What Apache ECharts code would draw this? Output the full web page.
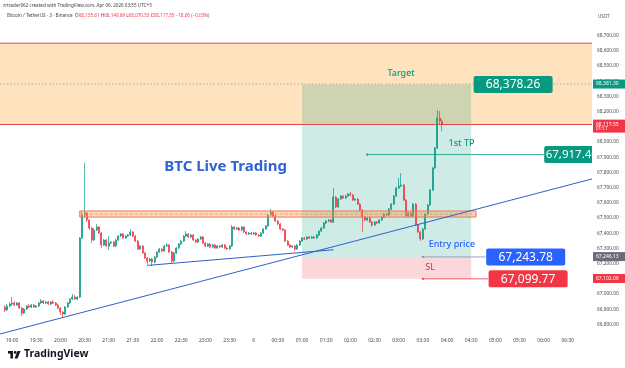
<!DOCTYPE html>
<html><head><meta charset="utf-8">
<script src="https://cdn.jsdelivr.net/npm/echarts@6/dist/echarts.min.js"></script>
<style>html,body{margin:0;padding:0;background:#fff}#c{width:625px;height:368px}</style>
</head><body><div id="c"></div>
<script>
// ---------- DATA ----------
const sessionStart = '18:45';
const slotCount = 246;            // 3-minute slots shown on the time axis
const candleStart = '18:51';
// [open, close, low, high]
const candles = [
[66914,66895,66881,66927],[66895,66921,66888,66934],[66921,66934,66914,66947],[66934,66941,66921,66980],
[66941,66927,66921,66954],[66927,66941,66921,66947],[66941,66908,66901,66947],[66908,66875,66855,66914],
[66875,66901,66868,66908],[66901,66921,66895,66927],[66921,66914,66908,66934],[66914,66927,66908,66934],
[66927,66914,66908,66934],[66914,66921,66908,66927],[66921,66941,66914,66947],[66941,66954,66934,66967],
[66954,66941,66934,66960],[66941,66947,66934,66954],[66947,66934,66927,66954],[66934,66947,66927,66954],
[66947,66941,66934,66960],[66941,66927,66921,66947],[66927,66908,66901,66934],[66908,66881,66862,66914],
[66881,66868,66842,66888],[66868,66914,66862,66921],[66914,66941,66908,66947],[66941,66967,66934,66973],
[66967,66980,66960,67000],[66980,66967,66960,66993],[66967,66980,66960,66987],[66980,67368,66973,67375],
[67368,67519,67362,67546],[67519,67533,67500,67862],[67533,67487,67473,67546],[67487,67434,67421,67493],
[67434,67355,67335,67441],[67355,67421,67348,67434],[67421,67441,67414,67460],[67441,67401,67395,67447],
[67401,67322,67302,67408],[67322,67355,67316,67362],[67355,67316,67309,67362],[67316,67335,67289,67381],
[67335,67342,67329,67348],[67342,67316,67309,67348],[67316,67355,67309,67362],[67355,67381,67348,67388],
[67381,67395,67375,67401],[67395,67368,67362,67401],[67368,67381,67362,67388],[67381,67388,67375,67395],
[67388,67408,67381,67427],[67408,67381,67375,67414],[67381,67348,67342,67388],[67348,67296,67289,67355],
[67296,67316,67289,67322],[67316,67270,67263,67322],[67270,67237,67230,67276],[67237,67217,67191,67243],
[67217,67230,67210,67237],[67230,67210,67184,67237],[67210,67243,67204,67250],[67243,67276,67237,67283],
[67276,67296,67270,67302],[67296,67283,67276,67302],[67283,67316,67276,67322],[67316,67322,67309,67335],
[67322,67276,67270,67329],[67276,67217,67204,67283],[67217,67270,67210,67276],[67270,67302,67263,67309],
[67302,67329,67296,67335],[67329,67348,67322,67355],[67348,67381,67342,67388],[67381,67395,67375,67414],
[67395,67375,67368,67401],[67375,67388,67368,67395],[67388,67355,67348,67395],[67355,67342,67335,67362],
[67342,67362,67335,67368],[67362,67375,67355,67381],[67375,67335,67329,67381],[67335,67316,67309,67342],
[67316,67329,67309,67335],[67329,67309,67302,67335],[67309,67322,67302,67329],[67322,67302,67296,67329],
[67302,67316,67296,67322],[67316,67309,67302,67322],[67309,67322,67302,67329],[67322,67302,67296,67329],
[67302,67296,67289,67309],[67296,67316,67289,67322],[67316,67441,67309,67454],[67441,67427,67421,67447],
[67427,67434,67421,67441],[67434,67421,67414,67441],[67421,67441,67414,67447],[67441,67408,67401,67447],
[67408,67395,67388,67414],[67395,67401,67388,67408],[67401,67395,67388,67408],[67395,67401,67388,67408],
[67401,67388,67381,67408],[67388,67381,67375,67395],[67381,67401,67375,67408],[67401,67427,67395,67434],
[67427,67447,67421,67454],[67447,67519,67441,67526],[67519,67539,67513,67559],[67539,67513,67506,67546],
[67513,67480,67473,67519],[67480,67460,67454,67487],[67460,67427,67421,67467],[67427,67421,67414,67434],
[67421,67348,67342,67427],[67348,67322,67316,67355],[67322,67309,67302,67329],[67309,67316,67302,67322],
[67316,67296,67283,67322],[67296,67322,67289,67329],[67322,67348,67316,67355],[67348,67368,67342,67375],
[67368,67362,67355,67375],[67362,67375,67355,67381],[67375,67368,67362,67381],[67368,67375,67362,67381],
[67375,67368,67362,67381],[67368,67388,67362,67395],[67388,67414,67381,67421],[67414,67434,67408,67441],
[67434,67467,67427,67473],[67467,67480,67460,67487],[67480,67487,67473,67493],[67487,67473,67467,67493],
[67473,67638,67467,67697],[67638,67572,67565,67644],[67572,67625,67565,67631],[67625,67644,67618,67651],
[67644,67631,67625,67651],[67631,67644,67625,67651],[67644,67658,67638,67664],[67658,67651,67644,67671],
[67651,67618,67612,67658],[67618,67625,67612,67631],[67625,67592,67585,67631],[67592,67552,67546,67598],
[67552,67506,67408,67559],[67506,67487,67480,67513],[67487,67500,67480,67506],[67500,67473,67467,67506],
[67473,67454,67441,67480],[67454,67473,67447,67480],[67473,67467,67460,67480],[67467,67487,67460,67493],
[67487,67506,67480,67513],[67506,67526,67500,67533],[67526,67519,67513,67533],[67519,67559,67513,67565],
[67559,67592,67552,67598],[67592,67644,67585,67651],[67644,67697,67638,67704],[67697,67710,67690,67763],
[67710,67717,67704,67796],[67717,67618,67612,67724],[67618,67513,67506,67625],[67513,67533,67506,67539],
[67533,67513,67506,67539],[67513,67592,67506,67598],[67592,67454,67447,67598],[67454,67408,67401,67460],
[67408,67362,67348,67414],[67362,67427,67355,67434],[67427,67526,67421,67533],[67526,67585,67519,67592],
[67585,67684,67579,67690],[67684,67829,67677,67836],[67829,67960,67822,67967],[67960,68158,67954,68210],
[68158,68138,68118,68204],[68135.61,68117.55,68070.53,68149.69]
];
const tickTimes = ['19:00','19:30','20:00','20:30','21:00','21:30','22:00','22:30','23:00','23:30','00:00','00:30',
                   '01:00','01:30','02:00','02:30','03:00','03:30','04:00','04:30','05:00','05:30','06:00','06:30'];
const tickTexts = ['19:00','19:30','20:00','20:30','21:00','21:30','22:00','22:30','23:00','23:30','6','00:30',
                   '01:00','01:30','02:00','02:30','03:00','03:30','04:00','04:30','05:00','05:30','06:00','06:30'];
const priceMin = 66700, priceMax = 68900, priceStep = 100;
const hiddenPriceTicks = [66700, 68800, 68900];

const supplyZone = {from:'18:45', to:'07:00', top:68650, bottom:68115};
const dottedLevel = 68381.30;
const position = {from:'01:00', to:'04:30', target:68378.26, entry:67243.78, stop:67099.77};
const resistance = {from:'20:24', to:'04:36', top:67546, bottom:67506, mid:67526};
const trendLong = [['18:45',66737],['07:00',67757]];
const trendShort = [['21:48',67188],['01:39',67291]];
const tpLine = {from:'02:21', to:'06:00', price:67917.40, text:'67,917.40'};
const entryLine = {from:'03:30', to:'04:48', price:67243.78, text:'67,243.78'};
const slLine = {from:'03:30', to:'04:51', price:67099.77, text:'67,099.77'};
const targetTag = {at:'04:33', price:68378.26, text:'68,378.26'};
const notes = [
  {at:'03:03', price:68378.26, text:'Target', kind:'target'},
  {at:'04:18', price:67917.40, text:'1st TP', kind:'target'},
  {at:'04:06', price:67243.78, text:'Entry price', kind:'entry'},
  {at:'03:39', price:67099.77, text:'SL', kind:'stop'}
];
const title = {at:'22:09', price:67835, text:'BTC Live Trading'};
const axisTags = [
  {price:68381.30, text:'68,381.30', kind:'target'},
  {price:68117.55, text:'68,117.55', sub:'01:17', kind:'stop'},
  {price:67246.13, text:'67,246.13', kind:'gray'},
  {price:67102.09, text:'67,102.09', kind:'stop'}
];
const headerLine1 = 'zrtrader962 created with TradingView.com, Apr 06, 2026 03:55 UTC+5';
const symbolText = 'Bitcoin / TetherUS · 3 · Binance';
const ohlcText = [['O','68,135.61'],['H','68,149.69'],['L','68,070.53'],['C','68,117.55']];
const changeText = '−18.06 (−0.03%)';

// ---------- BUILD ----------
const categories = [];
(function(){
  const [h,m] = sessionStart.split(':').map(Number);
  for (let i=0;i<slotCount;i++){
    const t=(h*60+m+3*i)%1440;
    categories.push(String(Math.floor(t/60)).padStart(2,'0')+':'+String(t%60).padStart(2,'0'));
  }
})();
const ix = t => categories.indexOf(t);
const s0 = ix(candleStart);
const candleData = categories.map((c,i)=> (i>=s0 && i<s0+candles.length) ? candles[i-s0] : '-');

const GREEN='#089981', RED='#f23645', BLUE='#2962ff';
const FONT='"Noto Sans", Roboto, sans-serif';
const kindColor = {target:GREEN, entry:BLUE, stop:RED, gray:'#6a6d78'};

function helpers(api){
  const P=(t,p)=>api.coord([ix(t),p]);
  const rect=(t0,p0,t1,p1,style)=>{const a=P(t0,p0),b=P(t1,p1);
    return {type:'rect',shape:{x:Math.min(a[0],b[0]),y:Math.min(a[1],b[1]),width:Math.abs(b[0]-a[0]),height:Math.abs(b[1]-a[1])},style};};
  const line=(t0,p0,t1,p1,style)=>{const a=P(t0,p0),b=P(t1,p1);
    return {type:'line',shape:{x1:a[0],y1:a[1],x2:b[0],y2:b[1]},style:Object.assign({fill:null},style)};};
  return {P,rect,line};
}

function zonesItem(params, api){
  const {rect,line}=helpers(api);
  const ch=[];
  ch.push(rect(supplyZone.from,supplyZone.top,supplyZone.to,supplyZone.bottom,{fill:'rgba(255,160,40,0.30)'}));
  ch.push(rect(position.from,position.target,position.to,position.entry,{fill:'rgba(8,153,129,0.20)'}));
  ch.push(rect(position.from,position.entry,position.to,position.stop,{fill:'rgba(242,54,69,0.20)'}));
  ch.push(line(supplyZone.from,supplyZone.top,supplyZone.to,supplyZone.top,{stroke:'#df4b4f',lineWidth:1}));
  ch.push(line(supplyZone.from,supplyZone.bottom,supplyZone.to,supplyZone.bottom,{stroke:'#df4b4f',lineWidth:1}));
  ch.push(line(supplyZone.from,dottedLevel,supplyZone.to,dottedLevel,{stroke:'#a0a0a0',lineWidth:0.8,lineDash:[1.5,2]}));
  return {type:'group',children:ch};
}

function drawingsItem(params, api){
  const {P,rect,line}=helpers(api);
  const ch=[];
  ch.push(rect(resistance.from,resistance.top,resistance.to,resistance.bottom,{fill:'rgba(248,150,60,0.35)',stroke:'#ef7658',lineWidth:1}));
  ch.push(line(resistance.from,resistance.mid,resistance.to,resistance.mid,{stroke:'#ee8a55',lineWidth:0.8,lineDash:[3,2]}));
  ch.push(line(trendLong[0][0],trendLong[0][1],trendLong[1][0],trendLong[1][1],{stroke:'#3060c4',lineWidth:1}));
  ch.push(line(trendShort[0][0],trendShort[0][1],trendShort[1][0],trendShort[1][1],{stroke:'#3060c4',lineWidth:1}));
  [[tpLine,GREEN],[entryLine,'#7f8fb8'],[slLine,RED]].forEach(([L,col],k)=>{
    ch.push(line(L.from,L.price,L.to,L.price,{stroke:col,lineWidth:0.8}));
    const a=P(L.from,L.price);
    ch.push({type:'circle',shape:{cx:a[0],cy:a[1],r:1.1},style:{fill:col}});
    const b=P(L.to,L.price);
    const bg=[GREEN,BLUE,RED][k];
    ch.push({type:'rect',shape:{x:b[0]+0.5,y:b[1]-8.5,width:79,height:17,r:2},style:{fill:bg}});
    ch.push({type:'text',x:b[0]+(k===0?2:40),y:b[1]+0.5,style:{text:L.text,fill:'#fff',font:(k===0?'11.5px ':'12px ')+FONT,
      align:k===0?'left':'center',textAlign:k===0?'left':'center',verticalAlign:'middle',textVerticalAlign:'middle'}});
  });
  const t=P(targetTag.at,targetTag.price);
  ch.push({type:'rect',shape:{x:t[0],y:t[1]-8.5,width:79,height:17,r:2},style:{fill:GREEN}});
  ch.push({type:'text',x:t[0]+39.5,y:t[1]+0.5,style:{text:targetTag.text,fill:'#fff',font:'12px '+FONT,
    align:'center',textAlign:'center',verticalAlign:'middle',textVerticalAlign:'middle'}});
  notes.forEach(n=>{
    const p=P(n.at,n.price);
    ch.push({type:'text',x:p[0],y:p[1]-(n.kind==='entry'?8.5:7),style:{text:n.text,fill:kindColor[n.kind],
      font:'500 9px '+FONT,align:'center',textAlign:'center',verticalAlign:'bottom',textVerticalAlign:'bottom'}});
  });
  const q=P(title.at,title.price);
  ch.push({type:'text',x:q[0],y:q[1],style:{text:title.text,fill:'#2f62d4',font:'bold 15px '+FONT,
    align:'left',textAlign:'left',verticalAlign:'middle',textVerticalAlign:'middle'}});
  return {type:'group',children:ch};
}

function tagsItem(params, api){
  const ch=[];
  const xr=api.coord([slotCount-1,priceMin])[0];
  axisTags.forEach(g=>{
    const y=api.coord([0,g.price])[1];
    const h=g.sub?13:9;
    ch.push({type:'rect',shape:{x:xr+1,y:y-4.5,width:32,height:h},style:{fill:kindColor[g.kind]}});
    ch.push({type:'text',x:xr+4,y:y,style:{text:g.text,fill:'#fff',font:'5px '+FONT,align:'left',textAlign:'left',
      verticalAlign:'middle',textVerticalAlign:'middle'}});
    if(g.sub) ch.push({type:'text',x:xr+4,y:y+5,style:{text:g.sub,fill:'#fff',font:'4.5px '+FONT,align:'left',textAlign:'left',
      verticalAlign:'middle',textVerticalAlign:'middle'}});
  });
  return {type:'group',children:ch};
}

const chart = echarts.init(document.getElementById('c'));
const ohlcRich = ohlcText.map(([k,v])=>'{k|'+k+'}{v|'+v+'}').join(' ')+' {v|'+changeText+'}';
chart.setOption({
  animation:false,
  backgroundColor:'#ffffff',
  grid:{left:0,right:33,top:5.2,bottom:28.4,containLabel:false},
  xAxis:{type:'category',data:categories,boundaryGap:false,
    axisLine:{show:false},axisTick:{show:false},splitLine:{show:false},
    axisLabel:{color:'#4a4a4a',fontSize:5,fontFamily:'Noto Sans',margin:-2,
      interval:(i,v)=>tickTimes.includes(v),
      formatter:v=>tickTexts[tickTimes.indexOf(v)]}},
  yAxis:{type:'value',position:'right',min:priceMin,max:priceMax,interval:priceStep,scale:true,
    axisLine:{show:false},axisTick:{show:false},splitLine:{show:false},
    axisLabel:{color:'#4a4a4a',fontSize:4.8,fontFamily:'Noto Sans',margin:5,align:'left',
      formatter:v=>hiddenPriceTicks.includes(v)?'':v.toLocaleString('en-US',{minimumFractionDigits:2,maximumFractionDigits:2})}},
  series:[
    {type:'custom',name:'zones',data:[[0,67000]],renderItem:zonesItem,z:1,silent:true,clip:true},
    {type:'candlestick',data:candleData,barWidth:1.5,z:3,
      itemStyle:{color:GREEN,color0:RED,borderColor:GREEN,borderColor0:RED,borderWidth:0.7}},
    {type:'custom',name:'drawings',data:[[0,67000]],renderItem:drawingsItem,z:5,silent:true,clip:true},
    {type:'custom',name:'tags',data:[[0,67000]],renderItem:tagsItem,z:6,silent:true,clip:false}
  ],
  graphic:[
    {type:'text',left:3,top:3,style:{text:headerLine1,fill:'#444',font:'4.6px '+FONT}},
    {type:'text',left:7,top:13,style:{text:symbolText+'  '+ohlcRich,fill:'#444',font:'4.6px '+FONT,
      rich:{k:{fill:'#444',fontSize:4.6,fontFamily:'Noto Sans'},v:{fill:RED,fontSize:4.6,fontFamily:'Noto Sans'}}}},
    {type:'text',left:598,top:14,style:{text:'USDT',fill:'#555',font:'4.6px '+FONT}},
    {type:'group',left:8,top:351,children:[
      {type:'rect',shape:{x:0,y:0,width:5,height:2.6},style:{fill:'#131722'}},
      {type:'rect',shape:{x:2.4,y:0,width:2.6,height:7.5},style:{fill:'#131722'}},
      {type:'circle',shape:{cx:7.2,cy:1.4,r:1.4},style:{fill:'#131722'}},
      {type:'polygon',shape:{points:[[9.5,0],[12.5,0],[9.5,7.5],[6.5,7.5]]},style:{fill:'#131722'}}
    ]},
    {type:'text',left:24,top:349,style:{text:'TradingView',fill:'#131722',font:'bold 10.5px '+FONT}}
  ]
});
</script></body></html>
